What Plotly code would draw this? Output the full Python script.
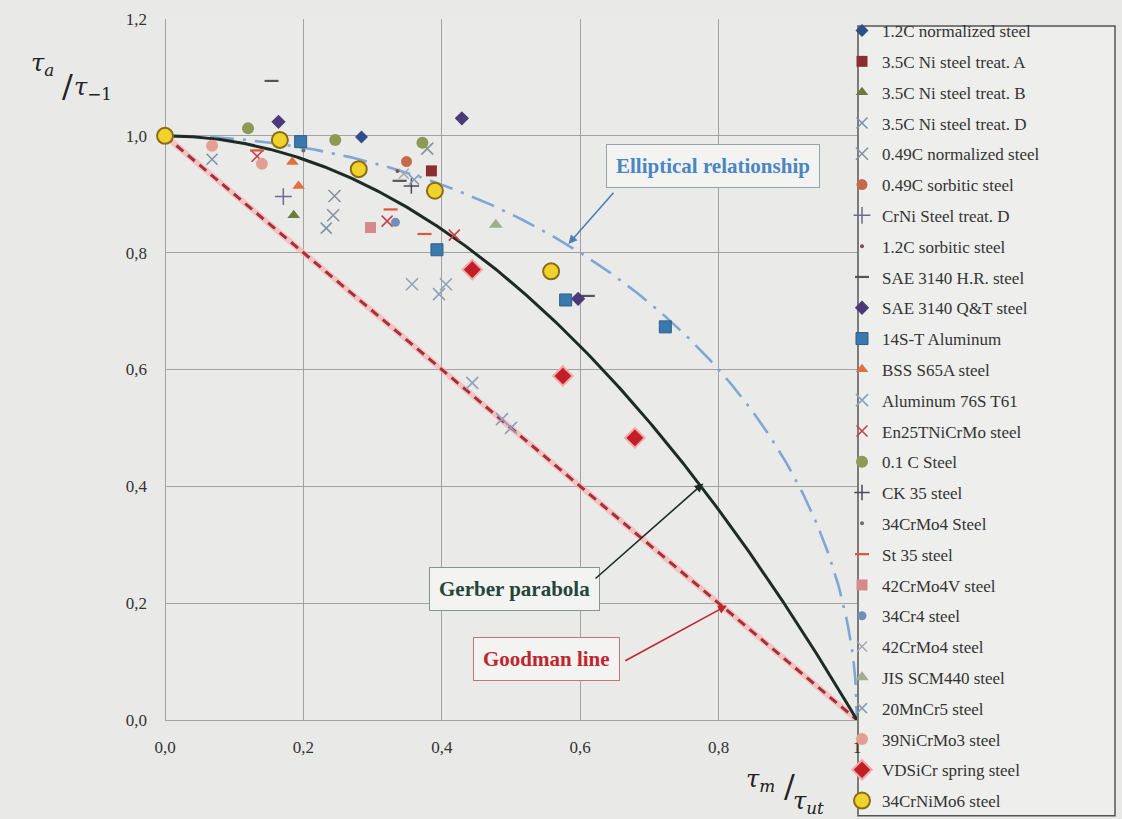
import numpy as np
import plotly.graph_objects as go

# ---- figure geometry (pixels) ----
W, H = 1122, 819
L, R, T, B = 165, 265, 10, 99
PW, PH = W - L - R, H - T - B


def px(x):
    return (x - L) / PW


def py(y):
    return (H - B - y) / PH


# ---- axis ticks ----
x_tickvals = [0, 0.2, 0.4, 0.6, 0.8, 1.0]
x_ticktext = ["0,0", "0,2", "0,4", "0,6", "0,8", "1"]
y_tickvals = [0, 0.2, 0.4, 0.6, 0.8, 1.0, 1.2]
y_ticktext = ["0,0", "0,2", "0,4", "0,6", "0,8", "1,0", "1,2"]

# ---- test data: normalised mean stress (x) vs normalised amplitude (y) ----
s_12C_norm_x = [0.284]
s_12C_norm_y = [0.998]
s_35Ni_A_x = [0.385]
s_35Ni_A_y = [0.940]
s_35Ni_B_x = [0.186]
s_35Ni_B_y = [0.864]
s_35Ni_D_x = [0.068, 0.233]
s_35Ni_D_y = [0.960, 0.842]
s_049C_norm_x = [0.245, 0.243, 0.379]
s_049C_norm_y = [0.897, 0.864, 0.978]
s_049C_sorb_x = [0.349]
s_049C_sorb_y = [0.956]
s_CrNi_D_x = [0.171]
s_CrNi_D_y = [0.896]
s_12C_sorb_x = [0.336]
s_12C_sorb_y = [0.940]
s_SAE_HR_x = [0.154, 0.611, 0.339]
s_SAE_HR_y = [1.094, 0.726, 0.923]
s_SAE_QT_x = [0.164, 0.429, 0.597]
s_SAE_QT_y = [1.024, 1.030, 0.721]
s_14ST_x = [0.196, 0.393, 0.579, 0.723]
s_14ST_y = [0.990, 0.805, 0.719, 0.673]
s_BSS_x = [0.193, 0.184]
s_BSS_y = [0.914, 0.955]
s_Al76_x = [0.357, 0.406, 0.396, 0.444, 0.487, 0.500]
s_Al76_y = [0.746, 0.746, 0.729, 0.577, 0.515, 0.500]
s_En25_x = [0.133, 0.321, 0.418]
s_En25_y = [0.965, 0.854, 0.830]
s_01C_x = [0.120, 0.246, 0.372]
s_01C_y = [1.013, 0.993, 0.988]
s_CK35_x = [0.356]
s_CK35_y = [0.914]
s_34CrMo4_x = [0.200]
s_34CrMo4_y = [0.975]
s_St35_x = [0.133, 0.326, 0.375]
s_St35_y = [0.975, 0.874, 0.832]
s_42CrMo4V_x = [0.297]
s_42CrMo4V_y = [0.843]
s_34Cr4_x = [0.333]
s_34Cr4_y = [0.852]
s_42CrMo4_x = [0.345]
s_42CrMo4_y = [0.935]
s_JIS_x = [0.478]
s_JIS_y = [0.848]
s_20MnCr5_x = [0.360]
s_20MnCr5_y = [0.925]
s_39NiCrMo3_x = [0.068, 0.140]
s_39NiCrMo3_y = [0.983, 0.952]
s_VDSiCr_x = [0.444, 0.575, 0.679]
s_VDSiCr_y = [0.771, 0.589, 0.483]
s_34CrNiMo6_x = [0.0, 0.166, 0.280, 0.390, 0.558]
s_34CrNiMo6_y = [1.000, 0.993, 0.943, 0.906, 0.768]

# (name, x, y, symbol, size, fill, outline colour, outline width)
series = [
    ("1.2C normalized steel", s_12C_norm_x, s_12C_norm_y, "diamond", 10, "#2f4f8a", "#2f4f8a", 0),
    ("3.5C Ni steel treat. A", s_35Ni_A_x, s_35Ni_A_y, "square", 11, "#8a2e30", "#8a2e30", 0),
    ("3.5C Ni steel treat. B", s_35Ni_B_x, s_35Ni_B_y, "triangle-up", 11, "#6c7a3c", "#6c7a3c", 0),
    ("3.5C Ni steel treat. D", s_35Ni_D_x, s_35Ni_D_y, "x-thin", 11, "#7f93aa", "#7f93aa", 1.6),
    ("0.49C normalized steel", s_049C_norm_x, s_049C_norm_y, "x-thin", 12, "#8a90a0", "#8a90a0", 1.6),
    ("0.49C sorbitic steel", s_049C_sorb_x, s_049C_sorb_y, "circle", 11, "#c46a48", "#c46a48", 0),
    ("CrNi Steel treat. D", s_CrNi_D_x, s_CrNi_D_y, "cross-thin", 12, "#6a6a92", "#6a6a92", 1.5),
    ("1.2C sorbitic steel", s_12C_sorb_x, s_12C_sorb_y, "circle", 4, "#7a5050", "#7a5050", 0),
    ("SAE 3140 H.R. steel", s_SAE_HR_x, s_SAE_HR_y, "line-ew", 10, "#555555", "#555555", 2.2),
    ("SAE 3140 Q&T steel", s_SAE_QT_x, s_SAE_QT_y, "diamond", 11, "#4a3a78", "#4a3a78", 0),
    ("14S-T Aluminum", s_14ST_x, s_14ST_y, "square", 12, "#3a78ae", "#2e5f8a", 1),
    ("BSS S65A steel", s_BSS_x, s_BSS_y, "triangle-up", 11, "#e0703e", "#e0703e", 0),
    ("Aluminum 76S T61", s_Al76_x, s_Al76_y, "x-thin", 12, "#8ea2bc", "#8ea2bc", 1.6),
    ("En25TNiCrMo steel", s_En25_x, s_En25_y, "x-thin", 11, "#c8404c", "#c8404c", 1.6),
    ("0.1 C Steel", s_01C_x, s_01C_y, "circle", 12, "#8d9a55", "#8d9a55", 0),
    ("CK 35 steel", s_CK35_x, s_CK35_y, "cross-thin", 11, "#4a4a60", "#4a4a60", 1.5),
    ("34CrMo4 Steel", s_34CrMo4_x, s_34CrMo4_y, "circle", 4, "#6a6a70", "#6a6a70", 0),
    ("St 35 steel", s_St35_x, s_St35_y, "line-ew", 10, "#e05438", "#e05438", 2.2),
    ("42CrMo4V steel", s_42CrMo4V_x, s_42CrMo4V_y, "square", 11, "#d48a8a", "#d48a8a", 0),
    ("34Cr4 steel", s_34Cr4_x, s_34Cr4_y, "circle", 9, "#6f8fb8", "#6f8fb8", 0),
    ("42CrMo4 steel", s_42CrMo4_x, s_42CrMo4_y, "x-thin", 10, "#a4a8b2", "#a4a8b2", 1.5),
    ("JIS SCM440 steel", s_JIS_x, s_JIS_y, "triangle-up", 12, "#a0ae90", "#a0ae90", 0),
    ("20MnCr5 steel", s_20MnCr5_x, s_20MnCr5_y, "x-thin", 10, "#8c9cb6", "#8c9cb6", 1.5),
    ("39NiCrMo3 steel", s_39NiCrMo3_x, s_39NiCrMo3_y, "circle", 12, "#e3a092", "#e3a092", 0),
    ("VDSiCr spring steel", s_VDSiCr_x, s_VDSiCr_y, "diamond", 15, "#c21e28", "#f2a8a8", 2),
    ("34CrNiMo6 steel", s_34CrNiMo6_x, s_34CrNiMo6_y, "circle", 16, "#f0d22c", "#8a6c14", 2),
]

fig = go.Figure()

# ---- theoretical fatigue relationships ----
xc = np.linspace(0, 1, 401)
goodman = 1 - xc
gerber = 1 - xc ** 2
ellipse = np.sqrt(np.clip(1 - xc ** 2, 0, None))

fig.add_trace(go.Scatter(x=xc, y=goodman, mode="lines", showlegend=False, hoverinfo="skip",
                         line=dict(color="rgba(246,178,178,0.7)", width=6)))
fig.add_trace(go.Scatter(x=xc, y=goodman, mode="lines", showlegend=False, hoverinfo="skip",
                         line=dict(color="#a3303a", width=3, dash="9px,6px")))
fig.add_trace(go.Scatter(x=xc, y=ellipse, mode="lines", showlegend=False, hoverinfo="skip",
                         line=dict(color="#7ea6d6", width=2.6, dash="24px,9px,3px,9px")))
fig.add_trace(go.Scatter(x=xc, y=gerber, mode="lines", showlegend=False, hoverinfo="skip",
                         line=dict(color="#1e2b25", width=3)))

# ---- measured points ----
for name, xs, ys, sym, size, fill, edge, lw in series:
    fig.add_trace(go.Scatter(
        x=xs, y=ys, mode="markers", name=name, legendgroup=name,
        cliponaxis=False,
        marker=dict(symbol=sym, size=size, color=fill, line=dict(color=edge, width=lw)),
    ))

serif = "Liberation Serif, Times New Roman, serif"

annotations = []


# callout boxes with arrows
def callout(text, cx, cy, color, border, tail, head, arrow_color):
    annotations.append(dict(
        x=cx, y=cy, xref="x", yref="y", text="<b>%s</b>" % text, showarrow=False,
        font=dict(family=serif, size=21, color=color),
        bgcolor="#f3f3f1", bordercolor=border, borderwidth=1, borderpad=9,
    ))
    annotations.append(dict(
        x=head[0], y=head[1], ax=tail[0], ay=tail[1], xref="x", yref="y",
        axref="x", ayref="y", text="", showarrow=True, arrowhead=2,
        arrowsize=1.1, arrowwidth=1.6, arrowcolor=arrow_color,
    ))


callout("Elliptical relationship", 0.792, 0.948, "#4a86c2", "#9aa2ac",
        (0.65, 0.905), (0.583, 0.815), "#4a7fb8")
callout("Gerber parabola", 0.505, 0.225, "#24463a", "#8a948e",
        (0.62, 0.24), (0.778, 0.405), "#1e2b25")
callout("Goodman line", 0.551, 0.105, "#c0262e", "#c87474",
        (0.663, 0.10), (0.812, 0.196), "#c0262e")

# axis titles written as slanted fractions
mfont = dict(family="DejaVu Serif, serif", size=24, color="#222222")
sfont = dict(family="DejaVu Serif, serif", size=32, color="#222222")
annotations += [
    dict(x=px(29), y=py(38), xref="paper", yref="paper", showarrow=False,
         text="<i>τ</i><sub><i>a</i></sub>", font=mfont),
    dict(x=px(60), y=py(57), xref="paper", yref="paper", showarrow=False,
         text="/", font=sfont),
    dict(x=px(72), y=py(63), xref="paper", yref="paper", showarrow=False,
         text="<i>τ</i><sub>−1</sub>", font=mfont),
    dict(x=px(777), y=py(799), xref="paper", yref="paper", showarrow=False,
         text="<i>τ</i><sub><i>m</i></sub>", font=mfont),
    dict(x=px(797), y=py(808), xref="paper", yref="paper", showarrow=False,
         text="/", font=sfont),
    dict(x=px(826), y=py(821), xref="paper", yref="paper", showarrow=False,
         text="<i>τ</i><sub><i>ut</i></sub>", font=mfont),
]

shapes = [
    dict(type="rect", xref="paper", yref="paper", layer="below",
         x0=px(858), x1=px(1115), y0=py(817), y1=py(17),
         line=dict(color="#555555", width=1.5), fillcolor="#eeeeec"),
]

fig.update_layout(
    width=W, height=H,
    margin=dict(l=L, r=R, t=T, b=B, pad=0),
    paper_bgcolor="#e9e9e7", plot_bgcolor="#eaeae8",
    font=dict(family=serif, size=17, color="#333333"),
    showlegend=True,
    legend=dict(
        x=px(842), y=py(22), xanchor="left", yanchor="top",
        traceorder="grouped", tracegroupgap=5.7, maxheight=840,
        bgcolor="rgba(0,0,0,0)", borderwidth=0,
        font=dict(family=serif, size=17, color="#333333"),
    ),
    annotations=annotations,
    shapes=shapes,
)
fig.update_xaxes(
    range=[0, 1], tickvals=x_tickvals, ticktext=x_ticktext,
    showgrid=True, gridcolor="#a2a2a2", gridwidth=1,
    zeroline=True, zerolinecolor="#a2a2a2", zerolinewidth=1,
    showline=False, ticks="", ticklabelstandoff=15,
    tickfont=dict(family=serif, size=17, color="#333333"),
)
fig.update_yaxes(
    range=[0, 1.2], tickvals=y_tickvals, ticktext=y_ticktext,
    showgrid=True, gridcolor="#a2a2a2", gridwidth=1,
    zeroline=True, zerolinecolor="#a2a2a2", zerolinewidth=1,
    showline=False, ticks="", ticklabelstandoff=17,
    tickfont=dict(family=serif, size=17, color="#333333"),
)

fig.write_html("out.html")
